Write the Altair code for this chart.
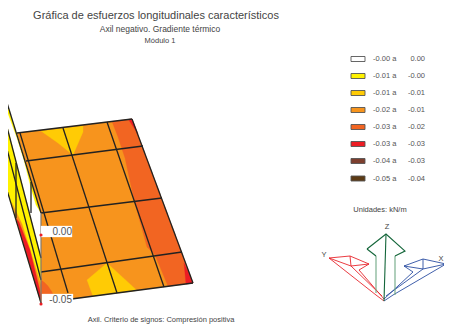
import altair as alt

FONT = "Liberation Sans"
ORANGE, DKORANGE, AMBER, YELLOW, RED, BROWN, DKBROWN = (
    "#f7941d", "#f26522", "#ffcb05", "#fff200", "#ed1c24", "#7d3f2e", "#5c3a14")
INK = "#222222"

# --- flange fill regions (drawing coordinates)
plate = [[17, 133], [41, 213], [41, 303], [193, 283], [132, 119]]
dk_right = [[112, 121.5], [118, 137], [125, 158], [134, 200], [147, 247], [155, 255],
            [168, 286.3], [193, 283], [132, 119]]
red_top = [[128.5, 119.5], [132, 119], [138, 134]]
red_bottom = [[184, 263], [193, 283], [186, 284]]
amber_top = [[41, 131], [83, 126], [83, 132], [73, 155], [58, 143]]
amber_bottom = [[107, 263], [137, 290.4], [93, 296.2], [87, 280]]
dk_left = [[41, 280], [44, 282], [48, 286], [52, 292], [55, 301], [41, 303]]

# --- web fill regions
web_white = [[0, 80], [41, 213], [41, 258], [0, 100]]
web_strip = [[0, 81], [16, 132], [41, 213], [36, 205], [31, 188], [24, 160], [17, 138], [6, 108]]
web_mid = [[3, 110], [41, 258], [41, 280], [0, 122], [0, 115]]
web_low_y = [[0, 122], [41, 280], [41, 303], [0, 167]]
web_low_o = [[12, 203], [22, 224], [41, 285], [41, 303], [16, 218]]
web_low_r = [[16, 218], [19, 222], [30, 250], [41, 295], [41, 303]]

# --- grid and outline lines
grid_lines = [
    [[20, 133], [68, 293]], [[63, 128], [117, 293]], [[107, 122], [164, 287]],
    [[132, 119], [193, 283]], [[17, 133], [132, 119]], [[26, 161], [143, 146]],
    [[41, 213], [162, 198]], [[41, 272], [182, 252]], [[41, 303], [193, 283]],
    [[0, 80], [41, 213]], [[0, 100], [41, 258]], [[0, 122], [41, 280]], [[0, 167], [41, 303]],
    [[16, 163], [16, 218]], [[31, 182], [31, 213]], [[1, 155], [1, 168]],
]
edge_line = [[41, 213], [41, 303]]

# --- triad
z_lines = [[[367, 249], [386, 234], [405, 251], [395, 256]], [[367, 249], [376, 256]],
           [[384, 301], [386, 234]]]
z_shaft = [[[376, 256], [376, 293]], [[395, 256], [395, 295]]]
red_lines = [[[329, 258], [350, 256], [369, 264], [359, 270], [384, 299]],
             [[329, 258], [351, 266], [369, 264]], [[350, 256], [351, 266], [382, 296]],
             [[329, 258], [376, 295], [384, 301]]]
blue_lines = [[[446, 264], [423, 259], [404, 266], [413, 272], [384, 299]],
              [[446, 264], [423, 269], [404, 266]], [[423, 259], [423, 269], [386, 296]],
              [[446, 264], [393, 295], [384, 301]]]

# --- legend
legend_colors = ["#ffffff", YELLOW, AMBER, ORANGE, DKORANGE, RED, BROWN, DKBROWN]
legend_low = ["-0.00 a", "-0.01 a", "-0.01 a", "-0.02 a", "-0.03 a", "-0.03 a", "-0.04 a", "-0.05 a"]
legend_high = ["0.00", "-0.00", "-0.01", "-0.01", "-0.02", "-0.03", "-0.03", "-0.04"]
legend_y = [59, 76, 93, 110, 127, 144, 161, 178.5]

# --- free text: text, x, y, size, align
texts = [
    ("Gráfica de esfuerzos longitudinales característicos", 156, 15.5, 11, "center"),
    ("Axil negativo. Gradiente térmico", 160, 28.5, 8.5, "center"),
    ("Módulo 1", 160, 40.5, 7.5, "center"),
    ("Axil. Criterio de signos:  Compresión positiva", 161, 320, 7.5, "center"),
    ("Unidades: kN/m", 380, 209.5, 7.5, "center"),
    ("Z", 387, 227, 7.5, "center"),
    ("Y", 324, 254.5, 7.5, "center"),
    ("X", 441, 259, 7.5, "center"),
]
value_labels = [("0.00", 72, 232), ("-0.05", 72, 300)]
label_boxes = [[[41, 226], [72, 226], [72, 237], [41, 237]], [[42, 294], [73, 294], [73, 305], [42, 305]]]
red_dots = [(41, 235), (41, 304)]

PROJ = dict(type="identity", scale=1, translate=[-8, -8])


def feat(kind, coords):
    return {"type": "Feature", "properties": {}, "geometry": {"type": kind, "coordinates": coords}}


def poly(pts, fill, stroke=None, sw=0.0):
    kw = {"fill": fill, "strokeWidth": sw}
    kw["stroke"] = stroke if stroke else fill
    if not stroke:
        kw["strokeWidth"] = 0.3
    return alt.Chart(alt.Data(values=[feat("Polygon", [pts + [pts[0]]])])).mark_geoshape(**kw).project(**PROJ)


def lines(segs, color, sw):
    return alt.Chart(alt.Data(values=[feat("LineString", s) for s in segs])).mark_geoshape(
        filled=False, stroke=color, strokeWidth=sw).project(**PROJ)


def label(rows, color="#444444"):
    out = []
    for r in rows:
        txt, x, y, size, al = r
        out.append(alt.Chart(alt.Data(values=[{"t": txt, "x": x, "y": y}])).mark_text(
            font=FONT, fontSize=size, align=al, baseline="middle", color=color
        ).encode(longitude="x:Q", latitude="y:Q", text="t:N").project(**PROJ))
    return out


layers = [
    poly(web_white, "#ffffff"), poly(web_strip, YELLOW), poly(web_mid, YELLOW),
    poly(web_low_y, YELLOW), poly(web_low_o, ORANGE), poly(web_low_r, RED),
    poly(plate, ORANGE), poly(dk_right, DKORANGE), poly(red_top, RED), poly(red_bottom, RED),
    poly(amber_top, AMBER), poly(amber_bottom, AMBER), poly(dk_left, DKORANGE),
    lines(grid_lines, INK, 1.3), lines([edge_line], "#777777", 1.1),
]
for b in label_boxes:
    layers.append(poly(b, "#ffffff"))
layers += label([(t, x, y, 10, "right") for t, x, y in value_labels], "#555555")
layers.append(alt.Chart(alt.Data(values=[{"x": x, "y": y} for x, y in red_dots])).mark_circle(
    color=RED, size=10, opacity=1).encode(longitude="x:Q", latitude="y:Q").project(**PROJ))

layers += [lines(red_lines, "#e8262d", 0.9), lines(blue_lines, "#2b4ea2", 0.9),
           lines(z_shaft, "#6fa884", 1.1), lines(z_lines, "#14663a", 1.1)]

for c, lo, hi, y in zip(legend_colors, legend_low, legend_high, legend_y):
    layers.append(poly([[351, y - 2.5], [365, y - 2.5], [365, y + 2.5], [351, y + 2.5]], c, "#555555", 0.9))
    layers += label([(lo, 373, y, 7.5, "left"), (hi, 425, y, 7.5, "right")], "#555555")

layers += label(texts)

chart = alt.layer(*layers).properties(
    width=436, height=317, padding=0, autosize=alt.AutoSizeParams(type="none")
).configure_view(stroke=None)

chart.save("out.html", embed_options={"renderer": "svg", "actions": False})
